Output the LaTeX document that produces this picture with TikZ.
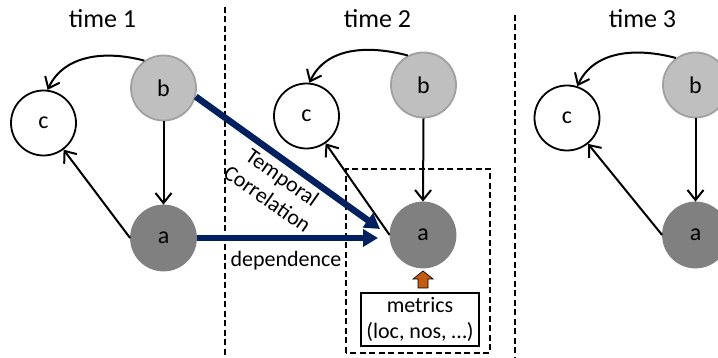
\documentclass[tikz,border=0pt]{standalone}
\usepackage{fontspec}
\setmainfont{Carlito}
\usetikzlibrary{arrows.meta,calc}
\definecolor{navy}{HTML}{002060}
\definecolor{lgray}{HTML}{BFBFBF}
\definecolor{lgrayb}{HTML}{A0A0A0}
\definecolor{dgray}{HTML}{808080}
\definecolor{orng}{HTML}{C55A11}
\tikzset{
  base/.style={font=\fontsize{22}{26}\selectfont},
  lbl/.style={font=\fontsize{24}{28}\selectfont},
  title/.style={font=\fontsize{26}{30}\selectfont, anchor=base},
  vb/.style={circle, minimum size=65pt, inner sep=0pt, fill=lgray, draw=lgrayb, line width=1.8pt, lbl},
  va/.style={circle, minimum size=65pt, inner sep=0pt, fill=dgray, draw=dgray, line width=1.8pt, lbl},
  vc/.style={circle, minimum size=65pt, inner sep=0pt, fill=white, draw=black, line width=1.8pt, lbl},
  edge/.style={line width=2pt, -{Straight Barb[length=10pt,width=16pt,line width=2pt]}},
  bigarrow/.style={line width=6.5pt, navy, -{Triangle[length=15pt,width=17pt]}},
  sep/.style={line width=1.6pt, dash pattern=on 6pt off 3.5pt},
}
\begin{document}
\begin{tikzpicture}[x=1pt,y=1pt]
\useasboundingbox (0,0) rectangle (718,358);
\clip (0,0) rectangle (718,358);

% titles
\node[title] (t1) at (102.5,330) {time 1};
\node[title] (t2) at (377.5,330) {time 2};
\node[title] (t3) at (642.5,330) {time 3};

% separators
\coordinate (s1a) at (225,351);
\coordinate (s1b) at (225,0);
\coordinate (s2a) at (515,343);
\coordinate (s2b) at (515,0);
\draw[sep] (s1a) -- (s1b);
\draw[sep] (s2a) -- (s2b);

% dashed box around a2
\draw[sep] (346,5) rectangle (490,189);

% nodes
\node[vb] (b1) at (163.5,270) {b};
\node[vc] (c1) at (43.5,235) {c};
\node[va] (a1) at (163.5,120) {a};

\node[vb] (b2) at (423.5,273) {b};
\node[vc] (c2) at (306.5,242) {c};
\node[va] (a2) at (423,123) {a};

\node[vb] (b3) at (695.5,273) {b};
\node[vc] (c3) at (567,240) {c};
\node[va] (a3) at (695.5,123) {a};

% metrics
\node[draw, line width=1.2pt, minimum width=118pt, minimum height=53pt, align=center, base, inner sep=0pt] (m) at (420,38.5) {metrics\\(loc, nos, …)};

% orange block arrow
\draw[fill=orng, line width=0.7pt] (418,70) -- (428,70) -- (428,79) -- (433,79) -- (423,87) -- (413,79) -- (418,79) -- cycle;

% black edges
\foreach \i in {1,2,3}{
  \draw[edge] (b\i.south) -- (a\i.north);
  \draw[edge] (a\i.west) -- (c\i);
}
\draw[edge] (b1.125) to[out=165,in=65] (c1.83);
\draw[edge] (b2.118) to[out=165,in=65] (c2.85);
\draw[edge] (b3.126) to[out=165,in=65] (c3.72);

% blue arrows
\coordinate (tip1) at (380,129);
\coordinate (tip2) at (378,120);
\draw[bigarrow] (b1.-15) -- (tip1);
\draw[bigarrow] (a1.east) -- (tip2);

% labels
\node[base, rotate=-35, align=center] (tc) at (275,170) {Temporal\\Correlation};
\node[base, anchor=base] (dep) at (286,91) {dependence};
\end{tikzpicture}
\end{document}
